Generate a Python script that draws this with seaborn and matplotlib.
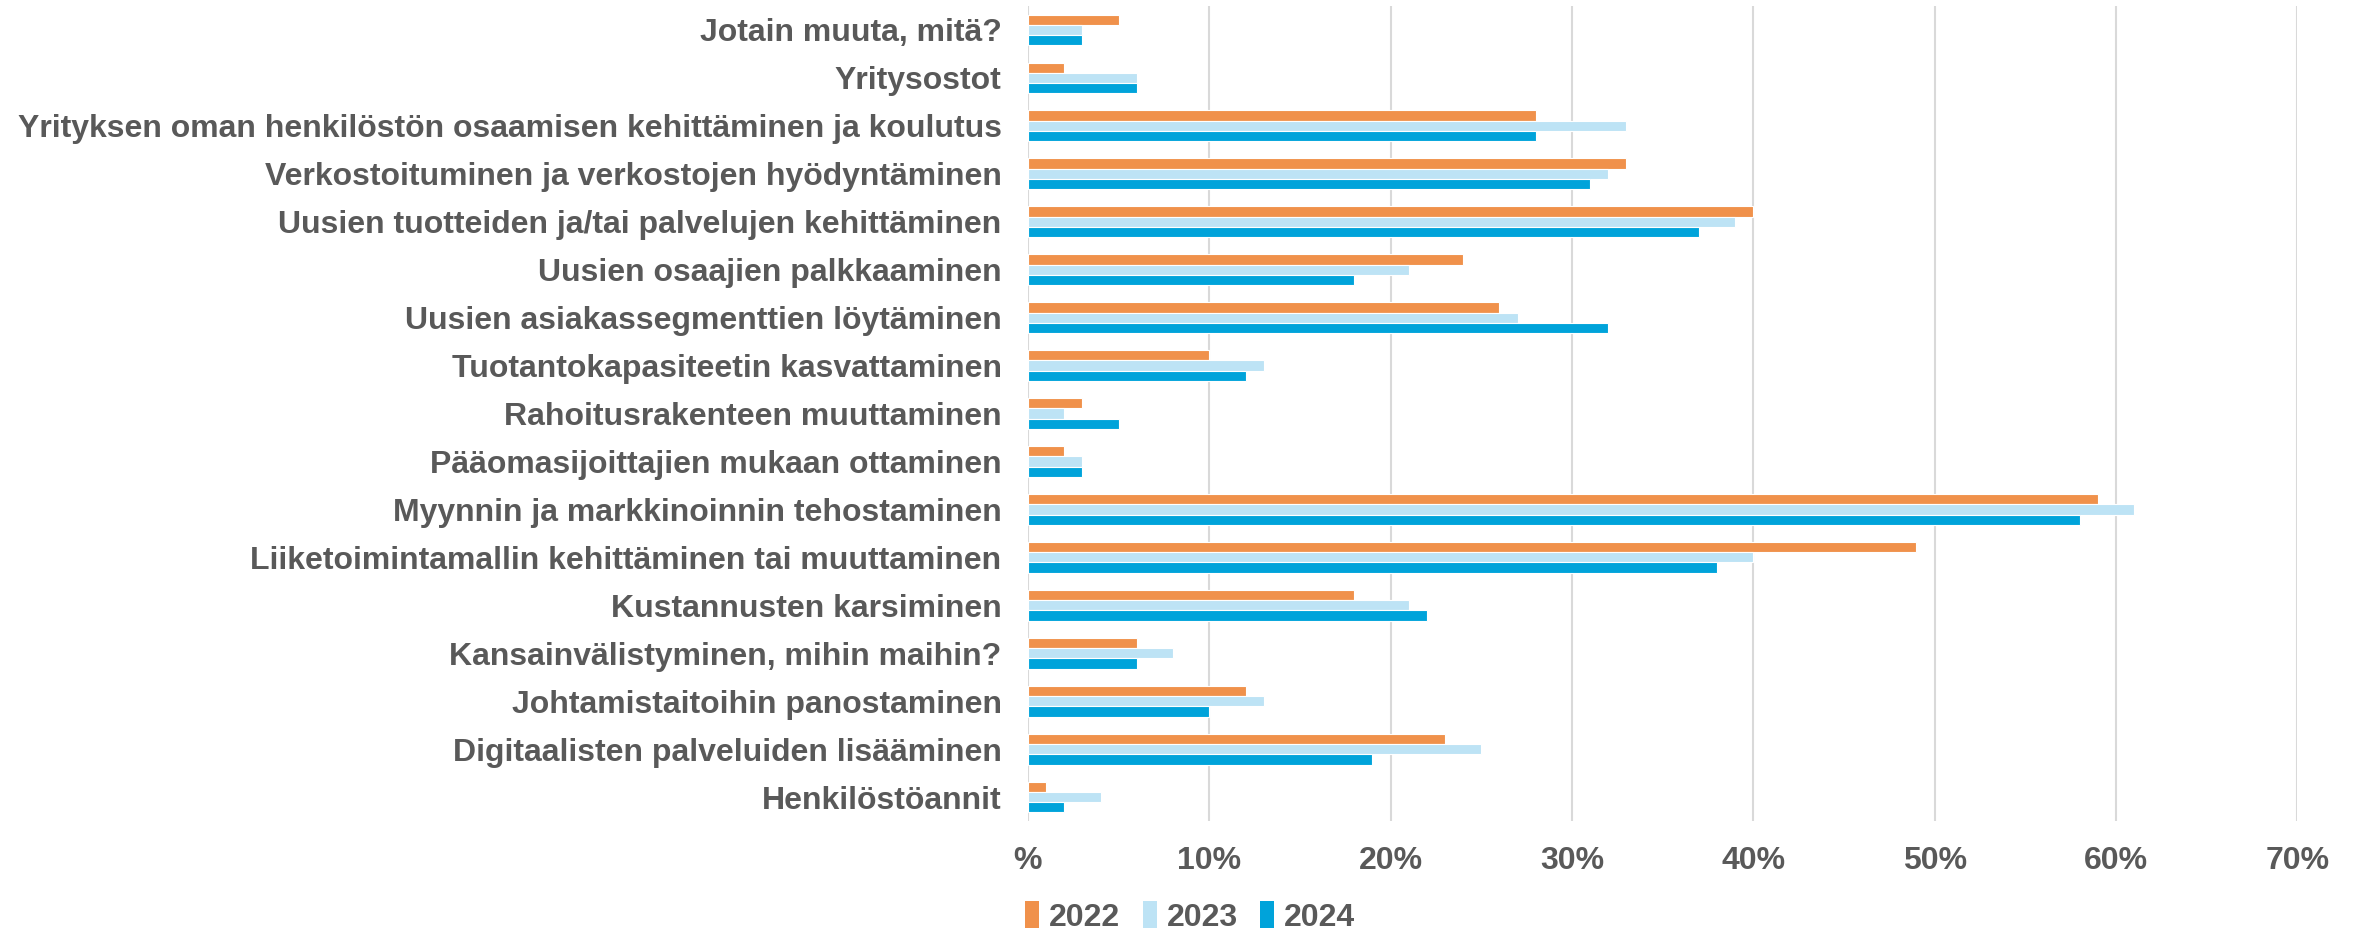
import matplotlib
matplotlib.use("Agg")
import matplotlib.pyplot as plt
import seaborn as sns
import pandas as pd
from matplotlib.patches import Patch

categories = [
    "Jotain muuta, mitä?",
    "Yritysostot",
    "Yrityksen oman henkilöstön osaamisen kehittäminen ja koulutus",
    "Verkostoituminen ja verkostojen hyödyntäminen",
    "Uusien tuotteiden ja/tai palvelujen kehittäminen",
    "Uusien osaajien palkkaaminen",
    "Uusien asiakassegmenttien löytäminen",
    "Tuotantokapasiteetin kasvattaminen",
    "Rahoitusrakenteen muuttaminen",
    "Pääomasijoittajien mukaan ottaminen",
    "Myynnin ja markkinoinnin tehostaminen",
    "Liiketoimintamallin kehittäminen tai muuttaminen",
    "Kustannusten karsiminen",
    "Kansainvälistyminen, mihin maihin?",
    "Johtamistaitoihin panostaminen",
    "Digitaalisten palveluiden lisääminen",
    "Henkilöstöannit",
]
years = ["2022", "2023", "2024"]
v2022 = [5, 2, 28, 33, 40, 24, 26, 10, 3, 2, 59, 49, 18, 6, 12, 23, 1]
v2023 = [3, 6, 33, 32, 39, 21, 27, 13, 2, 3, 61, 40, 21, 8, 13, 25, 4]
v2024 = [3, 6, 28, 31, 37, 18, 32, 12, 5, 3, 58, 38, 22, 6, 10, 19, 2]
xticks = [0, 10, 20, 30, 40, 50, 60, 70]
xticklabels = ["%", "10%", "20%", "30%", "40%", "50%", "60%", "70%"]

colors = ["#F0914B", "#BDE3F5", "#00A3DA"]
txt = "#595959"

rows = []
for y, vals in zip(years, [v2022, v2023, v2024]):
    for c, v in zip(categories, vals):
        rows.append({"Kategoria": c, "Vuosi": y, "Arvo": v})
df = pd.DataFrame(rows)

sns.set_theme(style="white")
plt.rcParams["font.family"] = ["Liberation Sans", "DejaVu Sans"]

fig = plt.figure(figsize=(23.61, 9.32), dpi=100)
ax = fig.add_axes([0.4354, 0.119, 0.5376, 0.8746])

sns.barplot(data=df, y="Kategoria", x="Arvo", hue="Vuosi", order=categories,
            hue_order=years, palette=colors, saturation=1, orient="h",
            width=0.64, gap=0, errorbar=None, ax=ax, legend=False,
            linewidth=0.8, edgecolor="white")

ax.set_xlim(0, 70)
ax.set_ylim(len(categories) - 0.5, -0.5)
ax.set_xticks(xticks)
ax.set_xticklabels(xticklabels)
ax.set_xlabel("")
ax.set_ylabel("")
for s in ax.spines.values():
    s.set_visible(False)
ax.grid(axis="x", color="#D9D9D9", linewidth=1.5)
ax.grid(axis="y", visible=False)
ax.set_axisbelow(True)
ax.tick_params(axis="y", length=0, pad=19, labelsize=23, labelcolor=txt)
ax.tick_params(axis="x", length=0, pad=18, labelsize=23, labelcolor=txt)
for lab in ax.get_yticklabels() + ax.get_xticklabels():
    lab.set_fontweight("bold")

handles = [Patch(facecolor=c, edgecolor="none", label=y) for c, y in zip(colors, years)]
leg = fig.legend(handles=handles, loc="center left", bbox_to_anchor=(0.422, 0.016),
                 ncol=3, frameon=False, handlelength=0.45, handleheight=0.9,
                 handletextpad=0.3, columnspacing=0.7,
                 prop={"size": 23, "weight": "bold"})
for t in leg.get_texts():
    t.set_color(txt)

fig.savefig("out.png", dpi=100)
